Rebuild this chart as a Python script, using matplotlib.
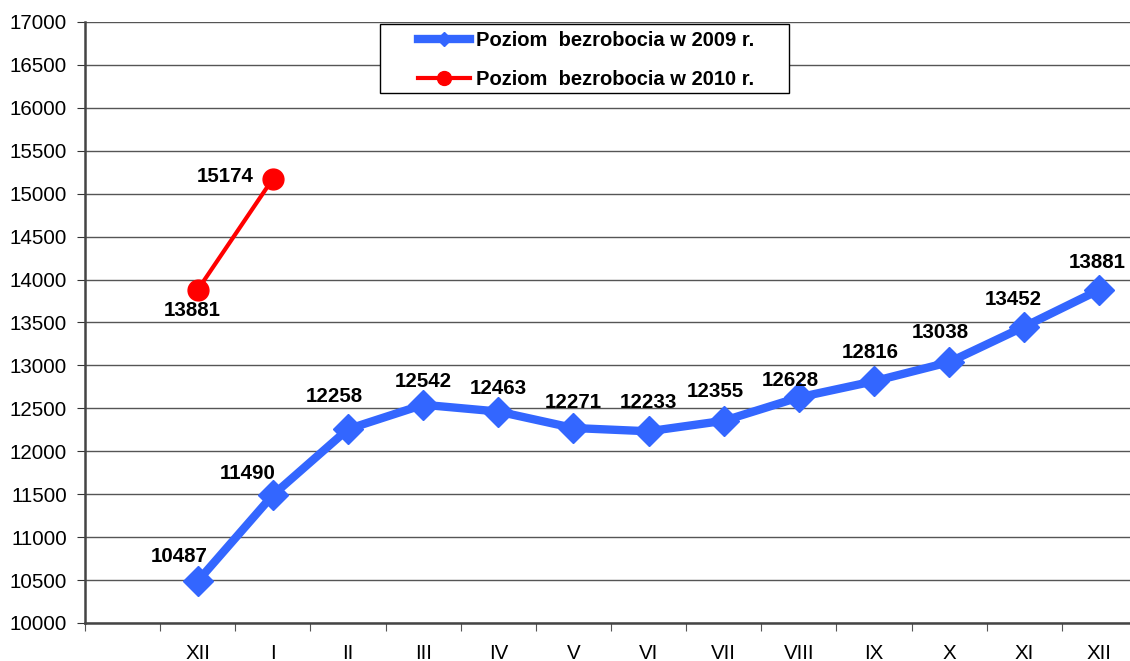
import numpy as np
import matplotlib.pyplot as plt
from matplotlib.patches import Rectangle

plt.rcParams['font.family'] = ['Liberation Sans', 'DejaVu Sans']

# kategorie na osi x (pierwsza pusta)
miesiace = ['', 'XII', 'I', 'II', 'III', 'IV', 'V', 'VI', 'VII', 'VIII', 'IX', 'X', 'XI', 'XII']
bezrobocie_2009 = [10487, 11490, 12258, 12542, 12463, 12271, 12233, 12355, 12628, 12816, 13038, 13452, 13881]
bezrobocie_2010 = [13881, 15174]

# przesuniecia etykiet (piksele)
off_2009 = [(-19, 25), (-25, 22), (-14, 33), (0, 23), (0, 23), (0, 26), (0, 29),
            (-8, 29), (-9, 17), (-4, 29), (-9, 30), (-11, 27), (-2, 27)]
off_2010 = [(-5, -21), (-48, 2)]

fig = plt.figure(figsize=(11.3, 6.61), dpi=100)
ax = fig.add_axes([85/1130, 38/661, 1052/1130, 601/661])

x09 = np.arange(1, 1 + len(bezrobocie_2009))
x10 = np.arange(1, 1 + len(bezrobocie_2010))

ax.plot(x09, bezrobocie_2009, color='#3366FF', lw=6, marker='D', ms=15, zorder=3,
        label='Poziom  bezrobocia w 2009 r.')
ax.plot(x10, bezrobocie_2010, color='#FF0000', lw=3, marker='o', ms=15, zorder=3,
        label='Poziom  bezrobocia w 2010 r.')

for xi, v, o in zip(x09, bezrobocie_2009, off_2009):
    ax.annotate(str(v), (xi, v), xytext=o, textcoords='offset pixels',
                ha='center', va='center', fontsize=14.8, fontweight='bold', zorder=4)
for xi, v, o in zip(x10, bezrobocie_2010, off_2010):
    ax.annotate(str(v), (xi, v), xytext=o, textcoords='offset pixels',
                ha='center', va='center', fontsize=14.8, fontweight='bold', zorder=4)

ax.set_xlim(-0.5, len(miesiace) - 0.5)
ax.set_ylim(10000, 17000)
ax.set_yticks(np.arange(10000, 17001, 500))
ax.grid(axis='y', color='#555555', lw=1)
ax.set_axisbelow(True)

# podzialki miedzy kategoriami, etykiety na srodku
ax.set_xticks(np.arange(-0.5, len(miesiace), 1.0))
ax.set_xticklabels([])
ax.set_xticks(np.arange(len(miesiace)), minor=True)
ax.set_xticklabels(miesiace, minor=True)
ax.tick_params(axis='x', which='major', length=6, color='#555555')
ax.tick_params(axis='x', which='minor', length=0, pad=15, labelsize=14.8)
ax.tick_params(axis='y', length=6, color='#333333', labelsize=14.8, pad=7)

for s in ['top', 'right']:
    ax.spines[s].set_visible(False)
for s in ['left', 'bottom']:
    ax.spines[s].set_color('#444444')
    ax.spines[s].set_linewidth(1.8)

# ramka legendy
ax.add_patch(Rectangle(((380-85)/1052, (623-93)/601), 409/1052, 69/601,
                       transform=ax.transAxes, facecolor='white', edgecolor='black',
                       lw=1.0, zorder=5))
leg = ax.legend(loc='upper left', bbox_to_anchor=((418-85)/1052, (623-31)/601),
                frameon=False, prop={'weight': 'bold', 'size': 14.5},
                handlelength=2.6, handletextpad=0.3, borderpad=0, borderaxespad=0,
                labelspacing=1.0)
leg.set_zorder(6)
leg.legend_handles[0].set_markersize(7)
leg.legend_handles[1].set_markersize(10)

plt.savefig('out.png', dpi=100)
